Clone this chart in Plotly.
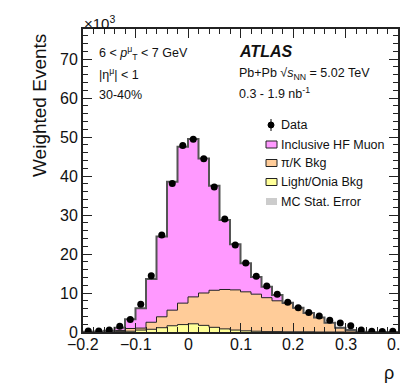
import numpy as np
import plotly.graph_objects as go

# Binning: 30 bins of width 0.02 from -0.2 to 0.4
bin_edges = [round(-0.2 + 0.02 * i, 2) for i in range(31)]
bin_centers = [round(-0.19 + 0.02 * i, 2) for i in range(30)]

# Weighted events (x10^3)
data_counts = [0.25, 0.25, 0.5, 1.5, 3.2, 7.1, 14.4, 24.9, 38.1, 47.8,
               49.4, 44.4, 37.2, 29.0, 22.3, 17.7, 14.3, 11.8, 9.7, 7.6,
               6.2, 5.0, 4.1, 3.0, 2.3, 1.6, 0.5, 0.2, 0.15, 0.2]

hf_muon = [0.05, 0.05, 0.2, 0.7, 2.4, 5.1, 11.1, 20.6, 32.9, 40.1,
           40.5, 34.5, 26.8, 17.8, 11.7, 7.3, 4.4, 2.8, 1.5, 0.2,
           0.1, 0.0, 0.0, 0.0, 0.0, 0.0, 0.0, 0.0, 0.0, 0.0]

pik_bkg = [0.0, 0.05, 0.05, 0.3, 0.7, 0.5, 1.8, 2.8, 4.0, 5.5,
           6.9, 8.3, 9.5, 10.1, 10.3, 10.0, 9.5, 8.7, 7.9, 7.25,
           6.1, 4.8, 3.7, 2.4, 1.1, 0.5, 0.05, 0.02, 0.0, 0.0]

light_onia = [0.0, 0.0, 0.05, 0.1, 0.2, 0.5, 0.7, 1.1, 1.6, 1.9,
              2.1, 1.7, 1.2, 0.8, 0.5, 0.3, 0.2, 0.1, 0.1, 0.05,
              0.05, 0.05, 0.0, 0.0, 0.0, 0.0, 0.0, 0.0, 0.0, 0.0]

# Axis tick labels
x_tick_vals = [-0.2, -0.1, 0.0, 0.1, 0.2, 0.3, 0.4]
x_tick_text = ["\u22120.2", "\u22120.1", "0", "0.1", "0.2", "0.3", "0.4"]
y_tick_vals = [0, 10, 20, 30, 40, 50, 60, 70]

# Stacked cumulative tops
stack_y = np.array(light_onia)
stack_o = stack_y + np.array(pik_bkg)
stack_t = stack_o + np.array(hf_muon)


def step(vals):
    v = list(vals)
    return v + [v[-1]]


FONT = "Liberation Sans, Arial, Helvetica, sans-serif"
TXT = "#111111"
PINK = "#ff99ff"
ORANGE = "#ffcc99"
YELLOW = "#ffff99"

W, H = 400, 384
L, R, T, B = 83, 2, 29, 52
PW, PH = W - L - R, H - T - B


def px(x):
    return (x - L) / PW


def py(y):
    return (H - B - y) / PH


fig = go.Figure()

fig.add_trace(go.Scatter(x=bin_edges, y=step(stack_y), mode="lines",
                         line=dict(shape="hv", color="#222222", width=1),
                         fill="tozeroy", fillcolor=YELLOW, showlegend=False))
fig.add_trace(go.Scatter(x=bin_edges, y=step(stack_o), mode="lines",
                         line=dict(shape="hv", color="#222222", width=1),
                         fill="tonexty", fillcolor=ORANGE, showlegend=False))
fig.add_trace(go.Scatter(x=bin_edges, y=step(stack_t), mode="lines",
                         line=dict(shape="hv", color="#555555", width=2),
                         fill="tonexty", fillcolor=PINK, showlegend=False))

fig.add_trace(go.Scatter(x=bin_centers, y=data_counts, mode="markers",
                         marker=dict(color="black", size=7),
                         error_y=dict(type="data",
                                      array=[0.05 + 0.004 * v for v in data_counts],
                                      color="black", thickness=1, width=0),
                         showlegend=False))

axis_common = dict(
    showline=True, linecolor="#222222", linewidth=2, mirror="allticks",
    ticks="inside", tickcolor="#222222", tickwidth=1.2, ticklen=9,
    showgrid=False, zeroline=False,
    tickfont=dict(family=FONT, size=16, color=TXT),
)

fig.update_xaxes(range=[-0.2, 0.4], tickvals=x_tick_vals, showticklabels=False,
                 minor=dict(dtick=0.02, ticklen=5, ticks="inside",
                            tickcolor="#222222", tickwidth=1.2, showgrid=False),
                 **axis_common)
fig.update_yaxes(range=[0, 77.7], tickvals=y_tick_vals,
                 minor=dict(dtick=2, ticklen=5, ticks="inside",
                            tickcolor="#222222", tickwidth=1.2, showgrid=False),
                 **axis_common)

ann = []


def text(x, y, s, size=12.5, xanchor="left", yanchor="middle", **kw):
    ann.append(dict(x=px(x), y=py(y), xref="paper", yref="paper", text=s,
                    showarrow=False, xanchor=xanchor, yanchor=yanchor,
                    font=dict(family=FONT, size=size, color=TXT), **kw))


# x tick labels placed just under the axis
for v, s in zip(x_tick_vals, x_tick_text):
    ann.append(dict(x=v, y=py(344), xref="x", yref="paper", text=s,
                    showarrow=False, xanchor="center", yanchor="middle",
                    font=dict(family=FONT, size=16, color=TXT)))

text(82, 22, "×10<sup>3</sup>", size=15)
text(97, 53, "6 < <i>p</i><sup>μ</sup><sub>T</sub> < 7 GeV")
text(97, 74, "|η<sup>μ</sup>| < 1")
text(97, 95, "30-40%")
text(237, 51, "<b><i>ATLAS</i></b>", size=16)
text(237, 74, "Pb+Pb √<i>s</i><sub>NN</sub> = 5.02 TeV")
text(237, 93, "0.3 - 1.9 nb<sup>-1</sup>")
text(40, 106, "Weighted Events", size=19, xanchor="center", textangle=-90)
text(396, 373, "ρ", size=18, xanchor="right")

# Legend
leg_items = [("Inclusive HF Muon", PINK, 144.5),
             ("π/K Bkg", ORANGE, 163),
             ("Light/Onia Bkg", YELLOW, 182)]
shapes = []
text(279, 125, "Data", size=12.5)
shapes.append(dict(type="line", xref="paper", yref="paper",
                   x0=px(271), x1=px(271), y0=py(119), y1=py(131),
                   line=dict(color="black", width=1)))
shapes.append(dict(type="circle", xref="paper", yref="paper",
                   x0=px(268), x1=px(274), y0=py(128), y1=py(122),
                   fillcolor="black", line=dict(color="black", width=1)))
for name, col, yy in leg_items:
    shapes.append(dict(type="rect", xref="paper", yref="paper",
                       x0=px(266), x1=px(277), y0=py(yy + 3.5), y1=py(yy - 3.5),
                       fillcolor=col, line=dict(color="#222222", width=1)))
    text(279, yy, name, size=12.5)
shapes.append(dict(type="rect", xref="paper", yref="paper",
                   x0=px(266), x1=px(277), y0=py(205), y1=py(198),
                   fillcolor="#cccccc", line=dict(width=0)))
text(279, 201.5, "MC Stat. Error", size=12.5)

fig.update_layout(
    width=W, height=H,
    margin=dict(l=L, r=R, t=T, b=B, autoexpand=False),
    paper_bgcolor="white", plot_bgcolor="white",
    annotations=ann, shapes=shapes, showlegend=False,
    font=dict(family=FONT, color=TXT),
)

fig.write_html("out.html")
